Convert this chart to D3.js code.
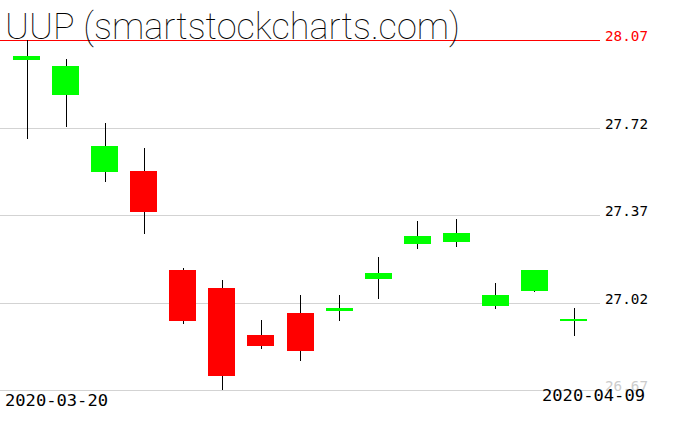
<!DOCTYPE html>
<html><head><meta charset="utf-8">
<script src="https://cdn.jsdelivr.net/npm/d3@7"></script>
<style>body{margin:0;background:#fff}svg{display:block}</style>
</head><body>
<svg id="c" width="676" height="431"></svg>
<script>
const title = "UUP (smartstockcharts.com)";
const dates = ["2020-03-20","2020-03-23","2020-03-24","2020-03-25","2020-03-26","2020-03-27","2020-03-30","2020-03-31","2020-04-01","2020-04-02","2020-04-03","2020-04-06","2020-04-07","2020-04-08","2020-04-09"];
const open  = [27.991,27.850,27.542,27.546,27.150,27.078,26.890,26.978,26.987,27.114,27.255,27.262,27.006,27.066,26.950];
const high  = [28.070,27.994,27.738,27.638,27.157,27.110,26.950,27.050,27.050,27.202,27.346,27.354,27.098,27.152,26.998];
const low   = [27.675,27.723,27.503,27.295,26.935,26.671,26.835,26.787,26.947,27.035,27.234,27.243,26.994,27.062,26.887];
const close = [28.006,27.966,27.646,27.382,26.947,26.727,26.846,26.827,26.998,27.138,27.286,27.298,27.050,27.150,26.952];
const yTicks = [26.67,27.02,27.37,27.72,28.07];
const xLabels = ["2020-03-20","2020-04-09"];

const svg = d3.select("#c");
const y = d3.scaleLinear().domain([26.67,28.07]).range([390,40]);
const x = d3.scalePoint().domain(dates).range([26.5,573.5]);
const bw = 27;

// grid
const g = svg.append("g").attr("shape-rendering","crispEdges");
g.selectAll("line.grid").data(yTicks).join("line")
  .attr("x1",0).attr("x2",600)
  .attr("y1",d=>Math.round(y(d))+0.5).attr("y2",d=>Math.round(y(d))+0.5)
  .attr("stroke",d=>d===28.07?"#ff0000":"#d3d3d3").attr("stroke-width",d=>d===28.07?1.5:1);

svg.selectAll("text.ylab").data(yTicks).join("text")
  .attr("x",605).attr("y",d=>Math.round(y(d))+1)
  .attr("font-family","DejaVu Sans Mono, monospace").attr("font-size",14)
  .attr("textLength",43).attr("lengthAdjust","spacingAndGlyphs")
  .attr("fill",d=>d===28.07?"#ff0000":(d===26.67?"#cccccc":"#000"))
  .text(d=>d.toFixed(2));

// candles
const idx = d3.range(dates.length);
const c = svg.append("g").attr("shape-rendering","crispEdges");
c.selectAll("line.wick").data(idx).join("line")
  .attr("x1",i=>Math.round(x(dates[i]))+0.5).attr("x2",i=>Math.round(x(dates[i]))+0.5)
  .attr("y1",i=>Math.round(y(high[i]))).attr("y2",i=>Math.round(y(low[i])))
  .attr("stroke","#000").attr("stroke-width",1);
c.selectAll("rect.body").data(idx).join("rect")
  .attr("x",i=>Math.round(x(dates[i])-bw/2))
  .attr("width",bw)
  .attr("y",i=>Math.round(y(Math.max(open[i],close[i]))))
  .attr("height",i=>Math.max(2,Math.round(Math.abs(y(open[i])-y(close[i])))))
  .attr("fill",i=>close[i]>=open[i]?"#00ff00":"#ff0000");

// title
svg.append("text").attr("x",5).attr("y",39)
  .attr("font-family","Roboto, 'DejaVu Sans', sans-serif").attr("font-weight",100)
  .attr("font-size",36).attr("textLength",455).attr("lengthAdjust","spacing")
  .attr("fill","#000").text(title);

// date labels
svg.append("text").attr("x",5).attr("y",406)
  .attr("font-family","DejaVu Sans Mono, monospace").attr("font-size",15)
  .attr("textLength",103).attr("lengthAdjust","spacingAndGlyphs")
  .attr("fill","#000").text(xLabels[0]);
svg.append("text").attr("x",542).attr("y",401)
  .attr("font-family","DejaVu Sans Mono, monospace").attr("font-size",15)
  .attr("textLength",103).attr("lengthAdjust","spacingAndGlyphs")
  .attr("fill","#000").text(xLabels[1]);
</script>
</body></html>
